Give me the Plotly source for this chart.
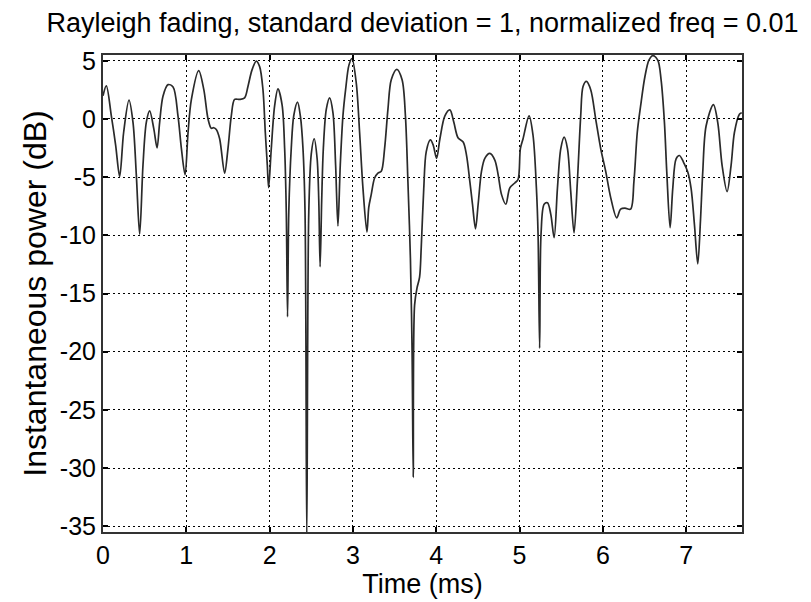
import plotly.graph_objects as go

# Time (ms) and instantaneous power (dB)
t_ms = [0.0, 0.04, 0.1, 0.152, 0.2, 0.248, 0.312, 0.36, 0.4, 0.44, 0.48, 0.52, 0.56, 0.61, 0.649, 0.68,
        0.72, 0.781, 0.841, 0.9, 0.941, 0.985, 1.021, 1.061, 1.149, 1.21, 1.261, 1.3, 1.33, 1.36, 1.4,
        1.46, 1.5, 1.54, 1.58, 1.64, 1.70, 1.74, 1.788, 1.84, 1.88, 1.92, 1.948, 1.972, 1.988, 2.02,
        2.06, 2.10, 2.15, 2.18, 2.20, 2.215, 2.23, 2.26, 2.29, 2.335, 2.37, 2.40, 2.425, 2.446, 2.47,
        2.5, 2.535, 2.57, 2.59, 2.606, 2.625, 2.645, 2.68, 2.72, 2.76, 2.792, 2.82, 2.848, 2.88, 2.912,
        2.952, 2.988, 3.04, 3.08, 3.12, 3.168, 3.19, 3.22, 3.26, 3.30, 3.34, 3.38, 3.42, 3.46, 3.527,
        3.59, 3.63, 3.66, 3.69, 3.71, 3.724, 3.74, 3.77, 3.80, 3.82, 3.85, 3.88, 3.93, 3.964, 4.004,
        4.044, 4.104, 4.164, 4.211, 4.263, 4.323, 4.363, 4.403, 4.435, 4.471, 4.503, 4.543, 4.583,
        4.643, 4.703, 4.743, 4.783, 4.835, 4.883, 4.943, 4.982, 5.01, 5.042, 5.114, 5.162, 5.202,
        5.222, 5.241, 5.258, 5.295, 5.335, 5.375, 5.415, 5.455, 5.495, 5.535, 5.575, 5.614, 5.654,
        5.694, 5.734, 5.762, 5.802, 5.854, 5.914, 5.974, 6.034, 6.094, 6.166, 6.213, 6.265, 6.333,
        6.373, 6.413, 6.453, 6.505, 6.553, 6.599, 6.659, 6.699, 6.739, 6.767, 6.807, 6.839, 6.879,
        6.919, 6.967, 7.019, 7.059, 7.099, 7.139, 7.171, 7.199, 7.239, 7.327, 7.379, 7.431, 7.491,
        7.539, 7.579, 7.639, 7.667]
power_db = [2.0, 2.85, 0.27, -2.26, -4.94, -1.14, 1.62, -0.29, -4.8, -9.9, -3.95, -0.29, 0.69, -0.85, -2.49, -0.29,
            1.96, 2.95, 2.75, 0.27, -2.54, -4.8, -1.14, 1.68, 4.16, 2.52, -0.01, -0.8, -0.75, -0.9, -1.7,
            -4.66, -2.54, 0.27, 1.68, 1.68, 1.82, 2.8, 4.2, 4.97, 4.5, 2.52, -1.14, -3.95, -5.9, -2.54,
            1.12, 2.58, 1.2, -2.5, -8.0, -17.0, -8.0, -2.5, 0.3, 1.45, 0.2, -2.5, -8.0, -36.0, -8.0,
            -3.0, -1.7, -3.4, -7.0, -12.7, -7.0, -2.5, 0.83, 1.82, 0.55, -3.95, -9.2, -3.95, 0.27, 2.52,
            4.63, 5.2, 3.09, -1.14, -5.92, -9.72, -7.6, -6.48, -5.07, -4.65, -4.5, -2.54, 0.83, 3.37, 4.27,
            3.37, 0.27, -5.4, -12.0, -20.0, -30.8, -16.0, -14.5, -13.6, -11.0, -6.0, -2.8, -1.8, -2.26, -3.39,
            -1.7, 0.27, 0.78, -0.29, -1.64, -1.98, -3.1, -5.36, -7.33, -9.44, -7.33, -4.51, -3.39,
            -2.96, -3.53, -4.8, -6.48, -7.33, -5.92, -5.5, -5.2, -2.54, -1.7, 0.27, -1.42, -5.92,
            -9.86, -19.7, -9.86, -7.33, -7.2, -8.2, -10.2, -5.92, -2.54, -1.56, -2.54, -6.2, -9.8,
            -5.36, 0.27, 2.8, 3.23, 2.52, -0.01, -2.54, -4.5, -6.76, -8.5, -7.75, -7.66, -7.75,
            -5.36, -1.14, 1.12, 3.65, 5.06, 5.45, 5.06, 3.36, -0.31, -4.55, -9.35, -5.96, -3.42,
            -3.14, -3.7, -4.55, -5.96, -9.07, -12.46, -8.8, -4.55, -0.6, 1.24, -0.31, -3.98, -6.24,
            -3.98, -1.16, 0.4, 0.54]

x_ticks = [0, 1, 2, 3, 4, 5, 6, 7]
y_ticks = [-35, -30, -25, -20, -15, -10, -5, 0, 5]

title_text = "Rayleigh fading, standard deviation = 1, normalized freq = 0.01"
x_label = "Time (ms)"
y_label = "Instantaneous power (dB)"

FONT = "Liberation Sans, Arial, Helvetica, sans-serif"

fig = go.Figure()
fig.add_trace(go.Scatter(
    x=t_ms, y=power_db, mode="lines",
    line=dict(color="#2a2a2a", width=1.7, shape="spline", smoothing=0.9),
    showlegend=False, hoverinfo="skip",
))

axis_common = dict(
    showline=True, linecolor="#333333", linewidth=2, mirror="ticks",
    ticks="inside", ticklen=5, tickwidth=1.5, tickcolor="black",
    showgrid=True, gridcolor="black", gridwidth=1, griddash="2px,3px",
    zeroline=False, tickfont=dict(family=FONT, size=25, color="black"),
)

fig.update_layout(
    width=811, height=602,
    margin=dict(l=103, r=69, t=55, b=64),
    paper_bgcolor="white", plot_bgcolor="white",
    title=dict(text=title_text, x=(103 + 742) / 2 / 811, xanchor="center",
               y=1 - 23 / 602, yanchor="middle", yref="container",
               font=dict(family=FONT, size=27, color="black")),
    xaxis=dict(range=[0, 7.67], tickvals=x_ticks, ticktext=[str(v) for v in x_ticks],
               title=dict(text=x_label, font=dict(family=FONT, size=27, color="black"), standoff=2),
               **axis_common),
    yaxis=dict(range=[-35.5, 5.5], tickvals=y_ticks, ticktext=[str(v) for v in y_ticks],
               title=dict(text=y_label, font=dict(family=FONT, size=32, color="black"), standoff=4),
               **axis_common),
)

fig.write_html("out.html")
